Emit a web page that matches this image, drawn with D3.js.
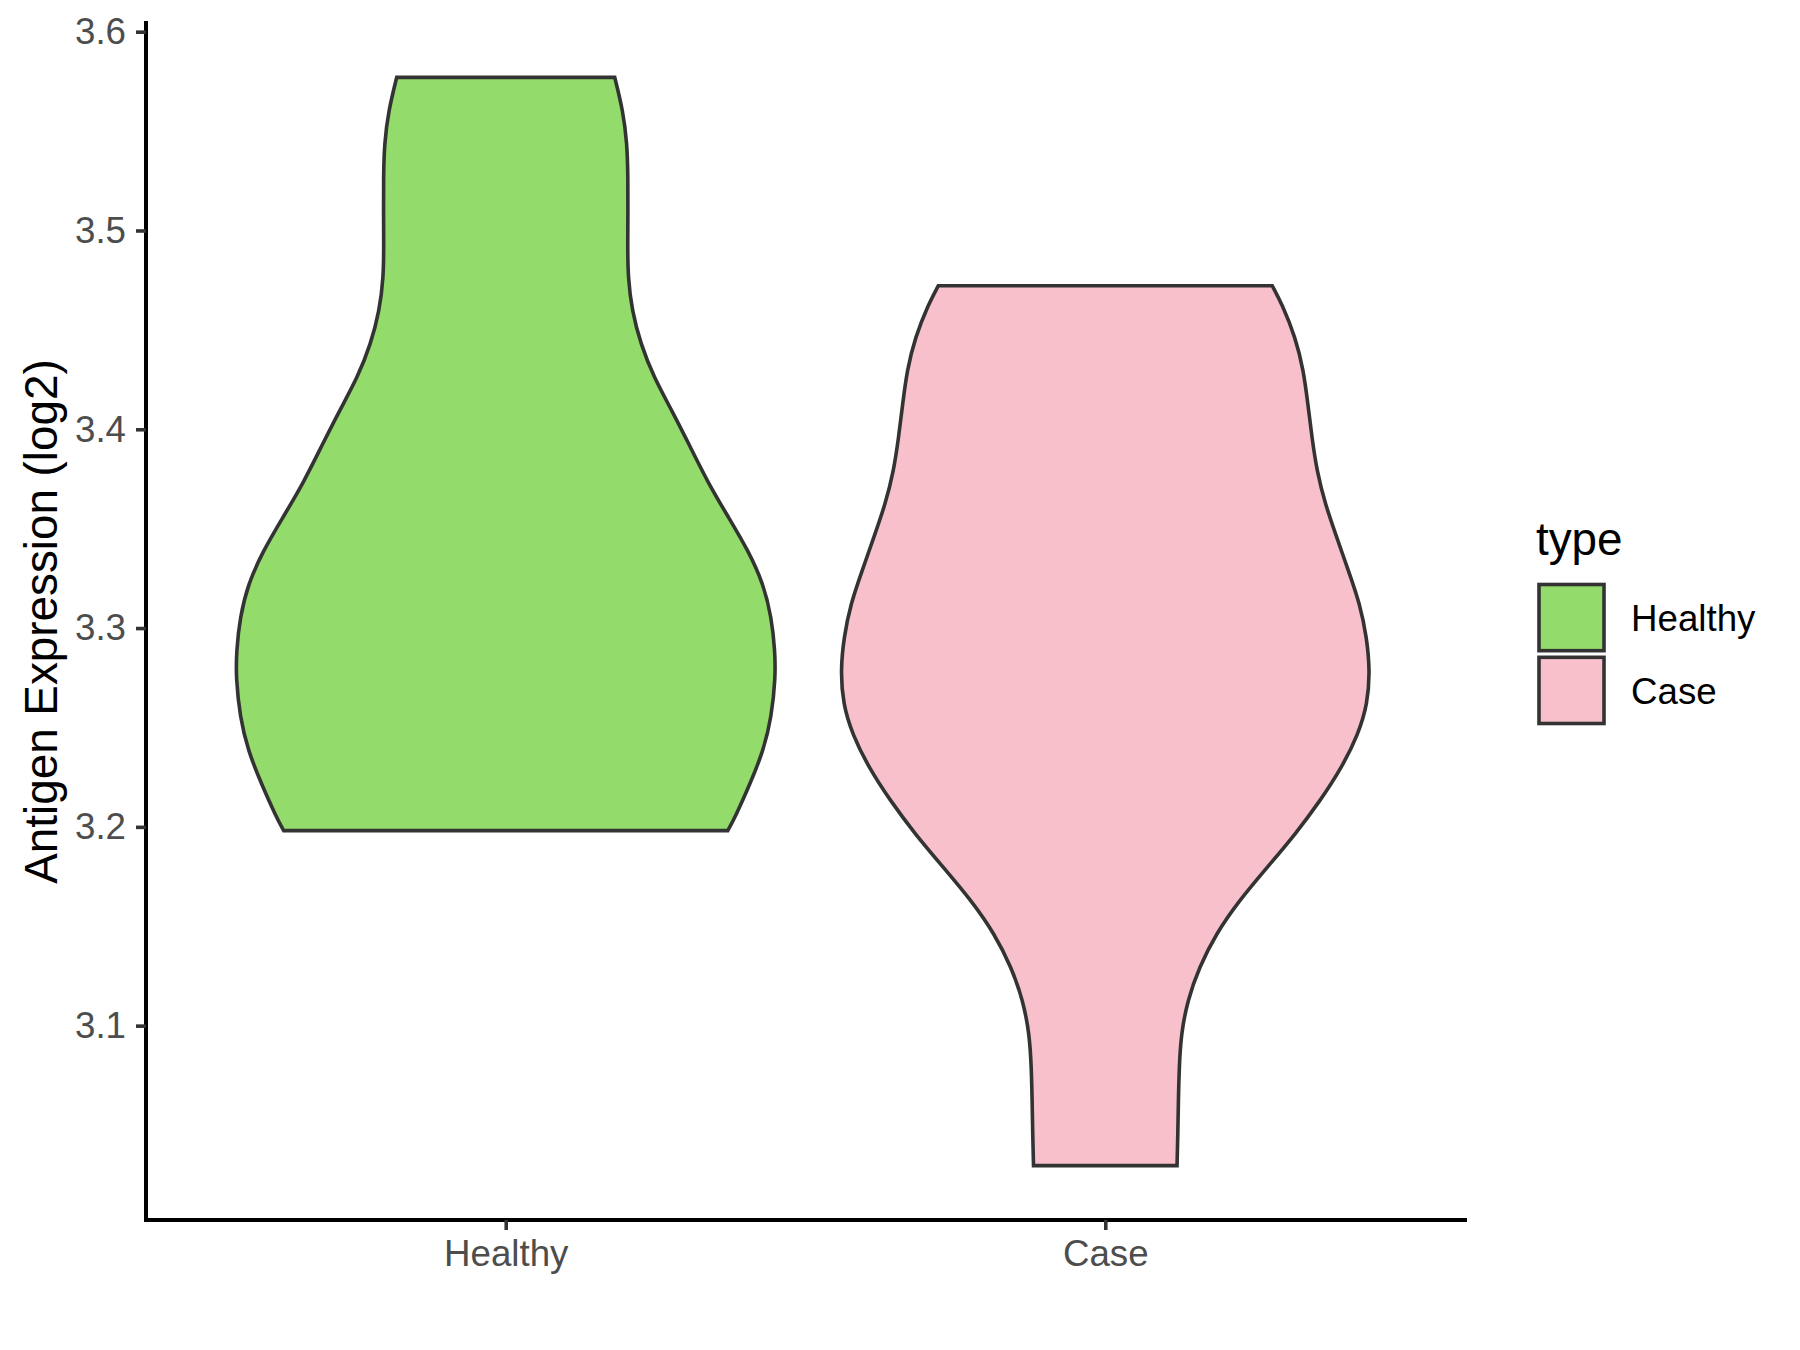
<!DOCTYPE html>
<html>
<head>
<meta charset="utf-8">
<script src="https://cdn.jsdelivr.net/npm/d3@7"></script>
<style>
  html, body { margin: 0; padding: 0; background: #ffffff; }
  svg { display: block; }
  text { font-family: "Liberation Sans", Arial, "DejaVu Sans", sans-serif; }
</style>
</head>
<body>
<script>
// ---- data ----
const categories = ["Healthy", "Case"];
const fills = ["#93DC6B", "#F7C0CB"];

// violin outlines: expression values (log2) and relative half-width (density, shared area scale)
const healthyValues  = [3.1981, 3.2048, 3.2217, 3.2383, 3.2551, 3.2752, 3.2886, 3.3054, 3.3223, 3.3389, 3.3557, 3.3725, 3.3928, 3.4094, 3.4261, 3.4430, 3.4597, 3.4764, 3.4934, 3.5100, 3.5267, 3.5435, 3.5600, 3.5770];
const healthyDensity = [0.823, 0.850, 0.906, 0.955, 0.985, 1.000, 0.998, 0.985, 0.955, 0.899, 0.826, 0.752, 0.678, 0.616, 0.549, 0.500, 0.468, 0.453, 0.452, 0.453, 0.453, 0.450, 0.435, 0.404];

const caseValues  = [3.0296, 3.0455, 3.0623, 3.0790, 3.0958, 3.1127, 3.1293, 3.1461, 3.1629, 3.1796, 3.1964, 3.2132, 3.2299, 3.2467, 3.2618, 3.2786, 3.2953, 3.3121, 3.3289, 3.3456, 3.3624, 3.3792, 3.3959, 3.4127, 3.4295, 3.4462, 3.4630, 3.4722];
const caseDensity = [0.266, 0.269, 0.271, 0.274, 0.281, 0.305, 0.348, 0.410, 0.496, 0.600, 0.705, 0.797, 0.877, 0.938, 0.972, 0.981, 0.969, 0.944, 0.901, 0.858, 0.815, 0.784, 0.766, 0.751, 0.735, 0.705, 0.655, 0.619];

const yTicks = [3.1, 3.2, 3.3, 3.4, 3.5, 3.6];
const yTitle = "Antigen Expression (log2)";
const legendTitle = "type";

// ---- layout ----
const W = 1800, H = 1350;
const panel = { left: 146, right: 1465, top: 23, bottom: 1220 };

const svg = d3.select("body").append("svg").attr("width", W).attr("height", H);

const series = [
  { cat: categories[0], fill: fills[0], pts: healthyValues.map((v, i) => ({ v, d: healthyDensity[i] })) },
  { cat: categories[1], fill: fills[1], pts: caseValues.map((v, i) => ({ v, d: caseDensity[i] })) }
];

const allVals = healthyValues.concat(caseValues);
const vmin = d3.min(allVals), vmax = d3.max(allVals);
const pad = (vmax - vmin) * 0.05;

const y = d3.scaleLinear().domain([vmin - pad, vmax + pad]).range([panel.bottom, panel.top]);
const x = d3.scalePoint().domain(categories).range([panel.left, panel.right]).padding(0.6);
const w = d3.scaleLinear().domain([0, 1]).range([0, x.step() * 0.45]);

// ---- violins ----
series.forEach(s => {
  const cx = x(s.cat);
  const area = d3.area()
    .y(d => y(d.v))
    .x0(d => cx - w(d.d))
    .x1(d => cx + w(d.d))
    .curve(d3.curveBasis);
  svg.append("path")
    .datum(s.pts)
    .attr("d", area)
    .attr("fill", s.fill)
    .attr("stroke", "#333333")
    .attr("stroke-width", 3.6)
    .attr("stroke-linejoin", "miter");
});

// ---- axes ----
const fsTick = 36.7;
const yAxis = d3.axisLeft(y).tickValues(yTicks).tickFormat(d3.format(".1f")).tickSize(10).tickSizeOuter(0).tickPadding(10);
const gy = svg.append("g").attr("transform", `translate(${panel.left},0)`).call(yAxis);
const xAxis = d3.axisBottom(x).tickSize(10).tickSizeOuter(0).tickPadding(10);
const gx = svg.append("g").attr("transform", `translate(0,${panel.bottom})`).call(xAxis);

// extend domain lines to full panel
gy.select(".domain").attr("d", `M0,${panel.bottom}V${panel.top}`);
gx.select(".domain").attr("d", `M${panel.left},0H${panel.right}`);

[gy, gx].forEach(g => {
  g.select(".domain").attr("stroke", "#000000").attr("stroke-width", 4).attr("stroke-linecap", "square");
  g.selectAll(".tick line").attr("stroke", "#333333").attr("stroke-width", 3.6);
  g.selectAll(".tick text").attr("fill", "#4D4D4D").style("font-size", fsTick + "px")
    .style("font-family", '"Liberation Sans", Arial, sans-serif');
});

// y title
svg.append("text")
  .attr("transform", `translate(57,${(panel.top + panel.bottom) / 2}) rotate(-90)`)
  .attr("text-anchor", "middle")
  .style("font-size", "45.8px")
  .attr("fill", "#000000")
  .text(yTitle);

// ---- legend ----
const lg = svg.append("g");
lg.append("text")
  .attr("x", 1536).attr("y", 555)
  .style("font-size", "45.8px")
  .attr("fill", "#000000")
  .text(legendTitle);

const keyY = d3.scaleBand().domain(categories).range([583, 725]).paddingInner(0.05);
categories.forEach((c, i) => {
  lg.append("rect")
    .attr("x", 1539).attr("y", keyY(c) + 1.5)
    .attr("width", 65).attr("height", keyY.bandwidth() - 3)
    .attr("fill", fills[i])
    .attr("stroke", "#333333")
    .attr("stroke-width", 3.6);
  lg.append("text")
    .attr("x", 1631).attr("y", keyY(c) + keyY.bandwidth() / 2)
    .attr("dy", "0.36em")
    .style("font-size", fsTick + "px")
    .attr("fill", "#000000")
    .text(c);
});
</script>
</body>
</html>
